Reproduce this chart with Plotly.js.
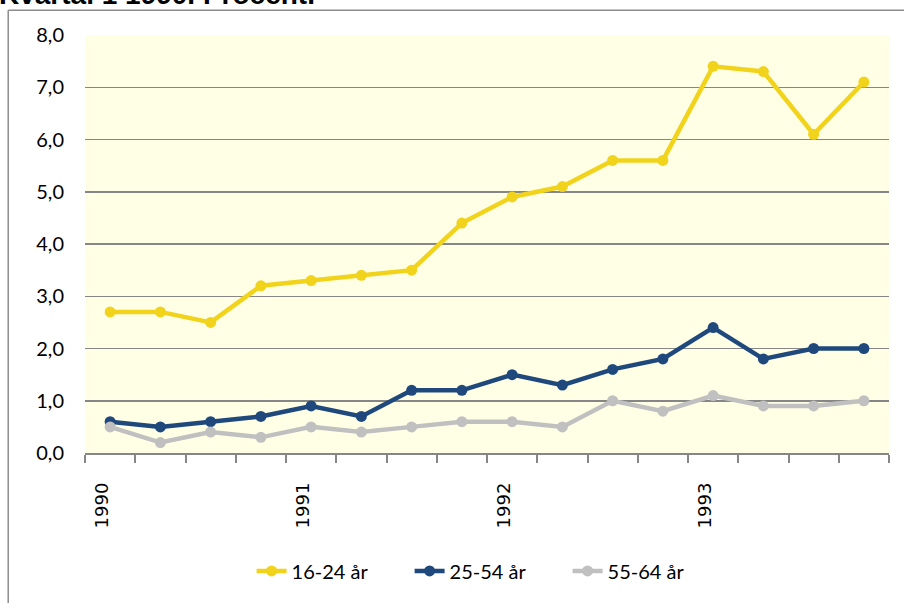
<!DOCTYPE html>
<html><head><meta charset="utf-8">
<script src="https://cdn.plot.ly/plotly-3.0.1.min.js"></script>
<style>html,body{margin:0;padding:0;background:#fff}#chart{width:904px;height:603px}</style>
</head><body><div id="chart"></div>
<script>
// Data
var quarters = ['1990K1','1990K2','1990K3','1990K4','1991K1','1991K2','1991K3','1991K4','1992K1','1992K2','1992K3','1992K4','1993K1','1993K2','1993K3','1993K4'];
var yearLabels = ['1990','1991','1992','1993'];
var age16_24 = [2.7,2.7,2.5,3.2,3.3,3.4,3.5,4.4,4.9,5.1,5.6,5.6,7.4,7.3,6.1,7.1];
var age25_54 = [0.6,0.5,0.6,0.7,0.9,0.7,1.2,1.2,1.5,1.3,1.6,1.8,2.4,1.8,2.0,2.0];
var age55_64 = [0.5,0.2,0.4,0.3,0.5,0.4,0.5,0.6,0.6,0.5,1.0,0.8,1.1,0.9,0.9,1.0];
var seriesNames = ['16-24 år','25-54 år','55-64 år'];
var titleText = 'Kvartal 1 1990. Procent.';

var idx = quarters.map(function(q,i){return i;});
var boundaries = quarters.map(function(q,i){return i-0.5;}).concat([quarters.length-0.5]);
var yearPos = yearLabels.map(function(y){return quarters.indexOf(y+'K1');});

var colors = ['#F2D31B','#1F497D','#C0C0C0'];
var vals = [age16_24, age25_54, age55_64];
var traces = vals.map(function(v,k){
  return {x: idx, y: v, name: seriesNames[k], type:'scatter', mode:'lines+markers',
    line:{color:colors[k], width:4.5}, marker:{color:colors[k], size:11},
    text: quarters, hoverinfo:'text+y'};
});
// invisible trace on second x axis to carry year labels
traces.push({x: idx, y: age16_24, xaxis:'x2', mode:'none', showlegend:false, hoverinfo:'skip', type:'scatter'});

var layout = {
  width:904, height:603,
  margin:{l:85, r:15, t:35, b:145},
  paper_bgcolor:'#fff', plot_bgcolor:'#FFFFE6',
  font: {family:'Lato, "Open Sans", sans-serif', size:20, color:'#000'},
  separators: ', ',
  showlegend:true,
  legend:{orientation:'h', x:0.502, xanchor:'center', y:-0.282, yanchor:'middle',
    font:{family:'Lato, sans-serif', size:20, color:'#000'}, entrywidth:113, entrywidthmode:'pixels',
    bgcolor:'rgba(0,0,0,0)'},
  xaxis:{range:[-0.5, quarters.length-0.5], tickvals:boundaries, ticktext:boundaries.map(function(){return '';}),
    ticks:'outside', ticklen:8, tickcolor:'#868686', tickwidth:2,
    showgrid:false, zeroline:false, showline:true, linecolor:'#868686', linewidth:2, fixedrange:true},
  xaxis2:{overlaying:'x', side:'bottom', range:[-0.5, quarters.length-0.5], tickvals:yearPos, ticktext:yearLabels,
    tickangle:-90, ticks:'', showgrid:false, zeroline:false, showline:false,
    tickfont:{family:'"DejaVu Sans", sans-serif', size:18, color:'#000'}, ticklabelstandoff:25, ticklabelshift:-8},
  yaxis:{range:[0,8], dtick:1, tick0:0, tickformat:'.1f', showgrid:true, gridcolor:'#868686', gridwidth:1.5,
    zeroline:false, showline:false, ticks:'', ticklabelstandoff:20, tickfont:{family:'Lato, sans-serif', size:20, color:'#000'}},
  shapes:[
    {type:'line', xref:'paper', yref:'paper', x0:-0.0955, x1:1.05, y0:1.059, y1:1.059, line:{color:'#8C8C8C', width:1.5}},
    {type:'line', xref:'paper', yref:'paper', x0:-0.0955, x1:-0.0955, y0:1.059, y1:-0.5, line:{color:'#8C8C8C', width:1.5}}
  ],
  annotations:[
    {text:'<b>'+titleText+'</b>', xref:'paper', yref:'paper', x:-0.11, xanchor:'left', y:1.054, yanchor:'bottom',
     showarrow:false, font:{family:'"Liberation Sans", Arial, sans-serif', size:28, color:'#000'}}
  ]
};
Plotly.newPlot('chart', traces, layout, {displayModeBar:false, staticPlot:true});
</script></body></html>
